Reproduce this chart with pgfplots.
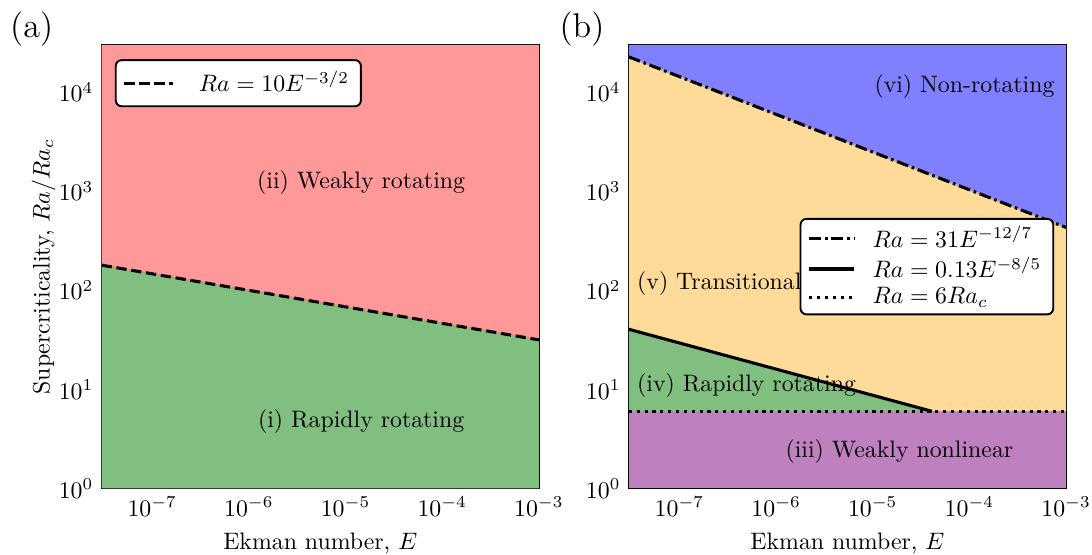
\documentclass[border=0pt]{standalone}
\usepackage{pgfplots}
\pgfplotsset{compat=1.18}
\definecolor{cred}{RGB}{255,153,153}
\definecolor{cgreen}{RGB}{128,191,128}
\definecolor{cblue}{RGB}{128,128,255}
\definecolor{corange}{RGB}{255,219,153}
\definecolor{cpurple}{RGB}{191,128,191}
\definecolor{edgeA}{RGB}{200,150,110}
\definecolor{edgeB}{RGB}{195,160,175}
\pgfplotsset{
  every axis legend/.append style={draw=black, line width=0.8pt, rounded corners=2.5pt, inner xsep=3pt},
}
\begin{document}
\begin{tikzpicture}
\useasboundingbox (0,0) rectangle (458.6pt,232.7pt);
% ---------- panel (a)
\begin{axis}[xmode=log, ymode=log, xmin=3e-8, xmax=1e-3, ymin=1, ymax=3e4,
    scale only axis, height=186.2pt, width=183.6pt,
    at={(42.7pt,27.6pt)}, anchor=south west,
    tick pos=left, tick align=inside,
    major tick length=3.2pt, minor tick length=1.7pt,
    every tick/.style={black, line width=0.7pt},
    axis line style={line width=0.8pt},
    xlabel={Ekman number, $E$},
    ylabel={Supercriticality, $Ra/Ra_c$},
    ylabel shift=-5.5pt,
    legend cell align=left,
    legend image code/.code={\draw[#1] (0pt,0pt) -- (20.6pt,0pt); \path (28.6pt,0pt);},
    legend style={at={(0.030,0.968)}, anchor=north west, inner ysep=2.5pt}]
\addplot[fill=cred, draw=none, forget plot] coordinates {(3e-8,179.4) (1e-3,31.6) (1e-3,3e4) (3e-8,3e4)} -- cycle;
\addplot[fill=cgreen, draw=none, forget plot] coordinates {(3e-8,1) (1e-3,1) (1e-3,31.6) (3e-8,179.4)} -- cycle;
\addplot[edgeA, line width=0.7pt, forget plot] coordinates {(3e-8,179.4) (1e-3,31.6)};
\addplot[black, line width=1.3pt, dash pattern=on 4.3pt off 2pt] coordinates {(3e-8,179.4) (1e-3,31.6)};
\addlegendentry{$Ra=10E^{-3/2}$}
\node at (axis cs:1.45e-5,1225) {(ii) Weakly rotating};
\node at (axis cs:1.45e-5,4.68) {(i) Rapidly rotating};
\end{axis}
% ---------- panel (b)
\begin{axis}[xmode=log, ymode=log, xmin=3e-8, xmax=1e-3, ymin=1, ymax=3e4,
    scale only axis, height=186.2pt, width=183.6pt,
    at={(264.1pt,27.6pt)}, anchor=south west,
    tick pos=left, tick align=inside,
    major tick length=3.2pt, minor tick length=1.7pt,
    every tick/.style={black, line width=0.7pt},
    axis line style={line width=0.8pt},
    xlabel={Ekman number, $E$},
    legend cell align=left,
    legend image code/.code={\draw[#1] (0pt,0pt) -- (19pt,0pt); \path (24pt,0pt);},
    legend style={at={(0.973,0.610)}, anchor=north east, inner ysep=1pt, row sep=-1.5pt}]
\addplot[fill=cblue, draw=none, forget plot] coordinates {(3e-8,22750) (1e-3,431) (1e-3,3e4) (3e-8,3e4)} -- cycle;
\addplot[fill=corange, draw=none, forget plot] coordinates {(3e-8,40.4) (4.1e-5,6) (1e-3,6) (1e-3,431) (3e-8,22750)} -- cycle;
\addplot[fill=cgreen, draw=none, forget plot] coordinates {(3e-8,6) (4.1e-5,6) (3e-8,40.4)} -- cycle;
\addplot[fill=cpurple, draw=none, forget plot] coordinates {(3e-8,1) (1e-3,1) (1e-3,6) (3e-8,6)} -- cycle;
\addplot[edgeB, line width=0.7pt, forget plot] coordinates {(3e-8,22750) (1e-3,431)};
\addplot[black, line width=1.3pt, dash pattern=on 5pt off 1.6pt on 1.1pt off 1.6pt] coordinates {(3e-8,22750) (1e-3,431)};
\addlegendentry{$Ra=31E^{-12/7}$}
\addplot[black, line width=1.3pt] coordinates {(3e-8,40.4) (4.1e-5,6)};
\addlegendentry{$Ra=0.13E^{-8/5}$}
\addplot[black, line width=1.3pt, dash pattern=on 1.3pt off 2pt] coordinates {(3e-8,6) (1e-3,6)};
\addlegendentry{$Ra=6Ra_c$}
\node[anchor=east, inner sep=0pt] at (axis cs:7.69e-4,11290) {(vi) Non-rotating};
\node[anchor=west, inner sep=0pt] at (axis cs:3.62e-8,117.8) {(v) Transitional};
\node[anchor=west, inner sep=0pt] at (axis cs:3.62e-8,10.8) {(iv) Rapidly rotating};
\node at (axis cs:1.89e-5,2.36) {(iii) Weakly nonlinear};
\end{axis}
\node at (13.3pt,220.5pt) {\Large (a)};
\node at (244.4pt,220.5pt) {\Large (b)};
\end{tikzpicture}
\end{document}
